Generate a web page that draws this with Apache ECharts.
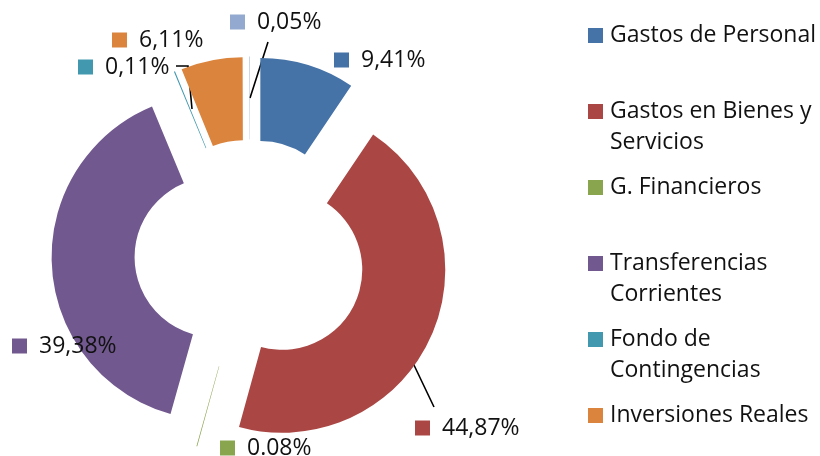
<!DOCTYPE html>
<html>
<head>
<meta charset="utf-8">
<script src="https://cdn.jsdelivr.net/npm/echarts@6/dist/echarts.min.js"></script>
<style>html,body{margin:0;padding:0;background:#fff}#c{width:820px;height:456px}</style>
</head>
<body>
<div id="c"></div>
<script>
// ---- data ----
const categories = ['Gastos de Personal', 'Gastos en Bienes y Servicios', 'G. Financieros', 'Transferencias Corrientes', 'Fondo de Contingencias', 'Inversiones Reales', 'Activos Financieros'];
const values = [9.41, 44.87, 0.08, 39.38, 0.11, 6.11, 0.05];
const valueLabels = ['9,41%', '44,87%', '0.08%', '39,38%', '0,11%', '6,11%', '0,05%'];
const legendNames = ['Gastos de Personal', 'Gastos en Bienes y Servicios', 'G. Financieros', 'Transferencias Corrientes', 'Fondo de Contingencias', 'Inversiones Reales'];
const legendLines = ['Gastos de Personal', 'Gastos en Bienes y\nServicios', 'G. Financieros', 'Transferencias\nCorrientes', 'Fondo de\nContingencias', 'Inversiones Reales'];

// ---- style ----
const colors = ['#4572A7', '#AA4643', '#89A54E', '#71588F', '#4198AF', '#DB843D', '#93A9CF'];
const labelPos = [[334, 60], [415, 428], [220, 448], [12, 346], [78, 67], [112, 40], [230, 22]];
const labelLines = [null, [[392, 320], [413, 363], [434, 407]], null, null, [[192, 109], [188, 66], [176, 66]], null, [[250, 98], [259, 70], [268, 42]]];
const FONT = '"Open Sans", "Noto Sans", sans-serif';
const CENTER = [250, 255];
const RADIUS = [80, 163];

const rich = {
  v: { fontSize: 23, fontFamily: FONT, color: '#111', padding: [0, 0, 0, 12] },
  t: { fontSize: 23, fontFamily: FONT, color: '#111', lineHeight: 31 },
  gap: { width: 7, lineHeight: 31 },
  ind: { width: 22, lineHeight: 31 }
};
colors.forEach((c, i) => { rich['s' + i] = { width: 15, height: 15, backgroundColor: c }; });

const chart = echarts.init(document.getElementById('c'), null, { renderer: 'canvas' });
chart.setOption({
  animation: false,
  legend: {
    data: legendNames,
    orient: 'vertical',
    left: 578,
    top: 19,
    height: 450,
    itemWidth: 0,
    itemHeight: 14,
    itemGap: 22,
    selectedMode: false,
    itemStyle: { opacity: 0, borderWidth: 0 },
    textStyle: { rich: rich, fontSize: 23, fontFamily: FONT },
    formatter: function (name) {
      const i = legendNames.indexOf(name);
      const lines = legendLines[i].split('\n');
      const l1 = '{s' + i + '|}{gap|}{t|' + lines[0] + '}';
      if (i === legendNames.length - 1 && !lines[1]) return l1;
      const l2 = lines[1] ? '{ind|}{t|' + lines[1] + '}' : '{ind|}{t| }';
      return l1 + '\n' + l2;
    }
  },
  series: [{
    // exploded doughnut
    type: 'pie',
    center: CENTER,
    radius: RADIUS,
    startAngle: 90,
    clockwise: true,
    selectedMode: 'multiple',
    selectedOffset: 35.5,
    emphasis: { disabled: true },
    itemStyle: { borderWidth: 0 },
    label: { show: false },
    labelLine: { show: false },
    data: categories.map((n, i) => ({
      name: n,
      value: values[i],
      selected: true,
      itemStyle: { color: colors[i] },
      select: { itemStyle: { color: colors[i] } }
    }))
  }, {
    // data labels (same slices, invisible)
    type: 'pie',
    center: CENTER,
    radius: RADIUS,
    startAngle: 90,
    clockwise: true,
    silent: true,
    selectedMode: false,
    avoidLabelOverlap: false,
    emphasis: { disabled: true },
    itemStyle: { color: 'rgba(0,0,0,0)', borderWidth: 0 },
    label: {
      show: true,
      position: 'outside',
      rich: rich,
      formatter: function (p) { return '{s' + p.dataIndex + '|}{v|' + valueLabels[p.dataIndex] + '}'; }
    },
    labelLine: { show: true, lineStyle: { color: '#000', width: 1.6, opacity: 1 } },
    labelLayout: function (p) {
      const pos = labelPos[p.dataIndex];
      const o = { x: pos[0], y: pos[1], align: 'left', verticalAlign: 'middle' };
      if (labelLines[p.dataIndex]) o.labelLinePoints = labelLines[p.dataIndex];
      return o;
    },
    data: categories.map((n, i) => ({
      name: n,
      value: values[i],
      labelLine: { show: !!labelLines[i] }
    }))
  }]
});
</script>
</body>
</html>
